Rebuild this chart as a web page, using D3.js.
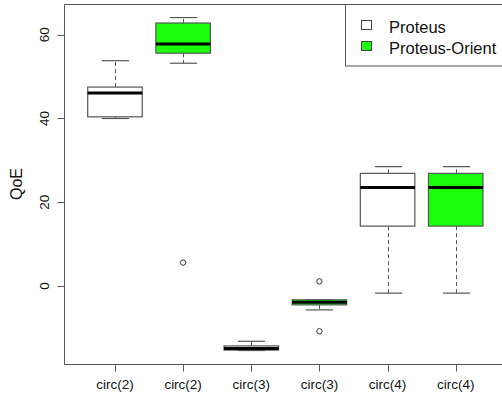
<!DOCTYPE html>
<html>
<head>
<meta charset="utf-8">
<script src="https://cdn.jsdelivr.net/npm/d3@7"></script>
<style>
  html, body { margin: 0; padding: 0; background: #fff; }
  svg { display: block; font-family: "Liberation Sans", Arial, Helvetica, sans-serif; }
</style>
</head>
<body>
<svg id="chart" width="502" height="399"></svg>
<script>
// ---- data ----
const categories = ["circ(2)", "circ(2)", "circ(3)", "circ(3)", "circ(4)", "circ(4)"];
const seriesNames = ["Proteus", "Proteus-Orient"];
const seriesOf = [0, 1, 0, 1, 0, 1];
const whiskerLow  = [40.0, 53.2, -15.4, -5.7, -1.7, -1.7];
const q1          = [40.4, 55.6, -15.3, -4.5, 14.3, 14.3];
const medians     = [46.1, 57.8, -14.9, -3.9, 23.5, 23.5];
const q3          = [47.5, 62.8, -14.3, -3.3, 26.9, 26.9];
const whiskerHigh = [53.8, 64.1, -13.2, -3.3, 28.5, 28.5];
const outliers    = [[], [5.6], [], [1.1, -10.8], [], []];
const yTicks = [0, 20, 40, 60];
const fills = ["#ffffff", "#1aff0a"];

// ---- layout ----
const svg = d3.select("#chart");
const plotLeft = 64.5, plotTop = 4.5, plotBottom = 364.5, plotRight = 510;

const x = d3.scaleLinear().domain([0.5, 6.5]).range([80.9, 489.8]);
const y = d3.scaleLinear().domain([-18.62, 67.17]).range([364, 4.7]);
const boxW = (x(2) - x(1)) * 0.8;
const capW = boxW / 2;
const boxStroke = "#555";

const data = categories.map((c, i) => ({
  cat: c, pos: i + 1, s: seriesOf[i],
  lo: whiskerLow[i], q1: q1[i], med: medians[i], q3: q3[i], hi: whiskerHigh[i],
  out: outliers[i]
}));

const g = svg.append("g");

// whiskers (dashed)
data.forEach(d => {
  const cx = Math.round(x(d.pos)) + 0.5;
  if (y(d.hi) < y(d.q3) - 0.5)
    g.append("line").attr("x1", cx).attr("x2", cx).attr("y1", y(d.q3)).attr("y2", y(d.hi))
      .attr("stroke", boxStroke).attr("stroke-dasharray", "4,3");
  if (y(d.lo) > y(d.q1) + 0.5)
    g.append("line").attr("x1", cx).attr("x2", cx).attr("y1", y(d.q1)).attr("y2", y(d.lo))
      .attr("stroke", boxStroke).attr("stroke-dasharray", "4,3");
  // caps
  [d.lo, d.hi].forEach(v => {
    g.append("line").attr("x1", cx - capW / 2).attr("x2", cx + capW / 2)
      .attr("y1", y(v)).attr("y2", y(v)).attr("stroke", boxStroke).attr("stroke-width", 1.2);
  });
  // box
  g.append("rect").attr("x", x(d.pos) - boxW / 2).attr("y", y(d.q3))
    .attr("width", boxW).attr("height", y(d.q1) - y(d.q3))
    .attr("fill", fills[d.s]).attr("stroke", boxStroke).attr("stroke-width", 1.2);
  // median
  g.append("line").attr("x1", x(d.pos) - boxW / 2).attr("x2", x(d.pos) + boxW / 2)
    .attr("y1", y(d.med)).attr("y2", y(d.med)).attr("stroke", "#000").attr("stroke-width", 3);
  // outliers
  d.out.forEach(v => {
    g.append("circle").attr("cx", x(d.pos)).attr("cy", y(v)).attr("r", 2.7)
      .attr("fill", "none").attr("stroke", "#333").attr("stroke-width", 1);
  });
});

// plot box
svg.append("path")
  .attr("d", `M${plotRight},${plotTop}H${plotLeft}V${plotBottom}H${plotRight}`)
  .attr("fill", "none").attr("stroke", boxStroke).attr("stroke-width", 1);

// y axis ticks
yTicks.forEach(t => {
  const yy = Math.round(y(t)) + 0.5;
  svg.append("line").attr("x1", plotLeft - 7).attr("x2", plotLeft).attr("y1", yy).attr("y2", yy)
    .attr("stroke", boxStroke);
  svg.append("text").attr("transform", `translate(49,${y(t)}) rotate(-90)`)
    .attr("text-anchor", "middle").attr("font-size", 13.5).attr("fill", "#111").text(t);
});

// x axis ticks
data.forEach(d => {
  const xx = Math.round(x(d.pos)) + 0.5;
  svg.append("line").attr("x1", xx).attr("x2", xx).attr("y1", plotBottom).attr("y2", plotBottom + 7)
    .attr("stroke", boxStroke);
  svg.append("text").attr("x", x(d.pos)).attr("y", 389)
    .attr("text-anchor", "middle").attr("font-size", 13.5).attr("fill", "#111").text(d.cat);
});

// y axis title
svg.append("text").attr("transform", `translate(21.5,184) rotate(-90)`)
  .attr("text-anchor", "middle").attr("font-size", 16).attr("fill", "#111").text("QoE");

// legend
const lg = svg.append("g");
lg.append("rect").attr("x", 345.5).attr("y", plotTop).attr("width", 170).attr("height", 66 - plotTop)
  .attr("fill", "#fff").attr("stroke", boxStroke).attr("stroke-width", 1);
seriesNames.forEach((s, i) => {
  const cy = 25 + i * 21;
  lg.append("rect").attr("x", 361.5).attr("y", cy - 4.5).attr("width", 10).attr("height", 9)
    .attr("fill", fills[i]).attr("stroke", "#444").attr("stroke-width", 1);
  lg.append("text").attr("x", 389).attr("y", cy + 7.5).attr("font-size", 16.5)
    .attr("fill", "#111").text(s);
});
</script>
</body>
</html>
